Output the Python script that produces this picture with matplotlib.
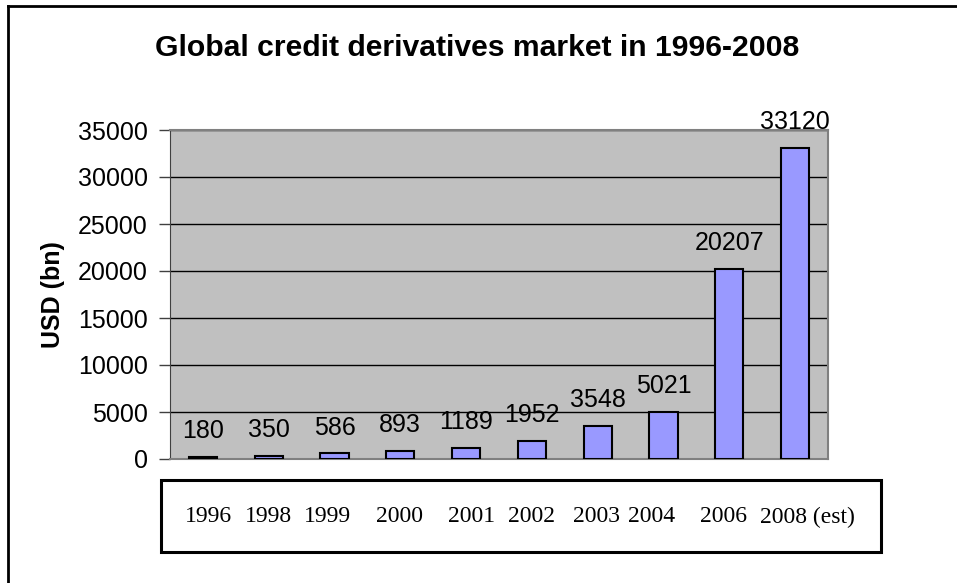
import numpy as np
import matplotlib
matplotlib.use("Agg")
import matplotlib.pyplot as plt
from matplotlib.patches import Rectangle
from matplotlib.lines import Line2D

# data
years = ['1996', '1998', '1999', '2000', '2001', '2002', '2003', '2004', '2006', '2008 (est)']
values = [180, 350, 586, 893, 1189, 1952, 3548, 5021, 20207, 33120]

W, H = 957, 583
fig = plt.figure(figsize=(W / 100, H / 100), dpi=100)

def fx(px):
    return px / W

def fy(py):
    return 1 - py / H

# outer chart border (only top and left visible in the crop)
fig.add_artist(Line2D([fx(8), 1], [fy(6), fy(6)], color='black', lw=2))
fig.add_artist(Line2D([fx(8), fx(8)], [fy(6), 0], color='black', lw=2))

ax = fig.add_axes([fx(170), fy(459), fx(828) - fx(170), fy(130) - fy(459)])
ax.set_facecolor('#C0C0C0')

x = np.arange(len(values))
ax.bar(x, values, width=0.43, color='#9999FF', edgecolor='black', linewidth=1.5, zorder=3)

for xi, v in zip(x, values):
    ax.annotate(str(v), (xi, v), xytext=(0, 10), textcoords='offset points',
                ha='center', va='bottom', fontsize=18, family='Liberation Sans')

ax.set_xlim(-0.5, len(values) - 0.5)
ax.set_ylim(0, 35000)
ax.set_yticks(np.arange(0, 35001, 5000))
ax.set_yticklabels([str(t) for t in range(0, 35001, 5000)], fontsize=18, family='Liberation Sans')
ax.set_xticks([])
ax.tick_params(axis='y', length=8, width=1, color='#404040', pad=8)
ax.yaxis.grid(True, color='black', linewidth=1, zorder=1)
ax.set_axisbelow(True)

for side in ['top', 'right']:
    ax.spines[side].set_color('#808080')
    ax.spines[side].set_linewidth(1.5)
ax.spines['left'].set_color('#404040')
ax.spines['bottom'].set_color('#808080')
ax.spines['bottom'].set_linewidth(1.5)

ax.set_ylabel('USD (bn)', fontsize=18, fontweight='bold', family='Liberation Sans', labelpad=9)

fig.text(fx(477), fy(48), 'Global credit derivatives market in 1996-2008', ha='center', va='center',
         fontsize=21.7, fontweight='bold', family='Liberation Sans')

# category label box below the plot
fig.add_artist(Rectangle((fx(161), fy(552)), fx(881) - fx(161), fy(480) - fy(552),
                         fill=False, edgecolor='black', lw=2.2, transform=fig.transFigure))
label_x = [185, 245, 304, 376, 448, 508, 573, 628, 700, 760]
for lx, lab in zip(label_x, years):
    fig.text(fx(lx), fy(517), lab, ha='left', va='center', fontsize=17, family='Liberation Serif')

fig.savefig('out.png', dpi=100)
